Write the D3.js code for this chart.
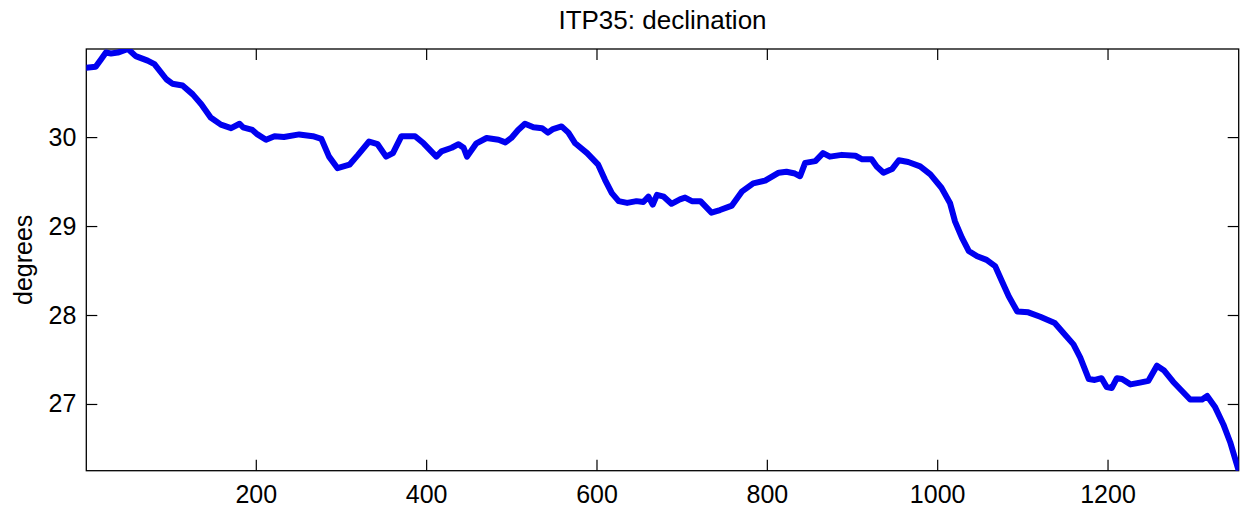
<!DOCTYPE html>
<html>
<head>
<meta charset="utf-8">
<script src="https://cdn.jsdelivr.net/npm/d3@7"></script>
<style>
  body { margin: 0; background: #fff; }
  svg { display: block; font-family: "Liberation Sans", Arial, Helvetica, sans-serif; }
</style>
</head>
<body>
<div id="chart"></div>
<script>
// sample number along the profile series
var sampleIdx = [1, 12, 18, 24, 30, 38, 50, 59, 73, 81, 95, 102, 114, 126, 136, 147, 159, 171, 181, 185,
  196, 202, 212, 222, 233, 251, 267, 277, 286, 296, 310, 320, 333, 343, 353, 361, 371, 387, 397, 412,
  418, 430, 438, 444, 448, 459, 471, 485, 493, 500, 508, 516, 526, 536, 543, 549, 559, 567, 575, 589,
  602, 610, 618, 626, 636, 647, 655, 661, 666, 671, 679, 688, 698, 704, 712, 722, 735, 745, 759, 771,
  784, 798, 814, 823, 833, 839, 845, 857, 866, 874, 888, 904, 912, 923, 929, 937, 947, 955, 966, 980,
  992, 1005, 1015, 1021, 1029, 1037, 1047, 1058, 1068, 1076, 1084, 1094, 1107, 1121, 1138, 1148, 1160, 1168, 1178, 1185,
  1193, 1199, 1205, 1211, 1217, 1227, 1238, 1248, 1258, 1266, 1277, 1297, 1311, 1317, 1326, 1336, 1344, 1354];

// declination, degrees
var declination = [30.78, 30.79, 30.87, 30.95, 30.94, 30.95, 30.99, 30.91, 30.86, 30.82, 30.65, 30.60, 30.58, 30.48, 30.37, 30.22, 30.14, 30.10, 30.15, 30.11,
  30.08, 30.03, 29.97, 30.01, 30.00, 30.03, 30.01, 29.98, 29.78, 29.65, 29.69, 29.80, 29.95, 29.92, 29.78, 29.82, 30.01, 30.01, 29.93, 29.78,
  29.84, 29.88, 29.92, 29.88, 29.78, 29.93, 29.99, 29.97, 29.94, 29.99, 30.08, 30.15, 30.11, 30.10, 30.05, 30.09, 30.12, 30.05, 29.93, 29.82,
  29.69, 29.52, 29.37, 29.28, 29.26, 29.28, 29.27, 29.33, 29.24, 29.35, 29.33, 29.25, 29.30, 29.32, 29.28, 29.28, 29.15, 29.18, 29.23, 29.39,
  29.48, 29.51, 29.60, 29.61, 29.59, 29.56, 29.71, 29.73, 29.82, 29.78, 29.80, 29.79, 29.75, 29.75, 29.67, 29.60, 29.64, 29.74, 29.72, 29.67,
  29.58, 29.43, 29.26, 29.05, 28.87, 28.72, 28.66, 28.62, 28.55, 28.38, 28.21, 28.04, 28.03, 27.98, 27.91, 27.80, 27.67, 27.52, 27.28, 27.27,
  27.29, 27.19, 27.18, 27.29, 27.28, 27.22, 27.24, 27.26, 27.43, 27.38, 27.25, 27.05, 27.05, 27.09, 26.97, 26.77, 26.57, 26.25];

var xTicks = [200, 400, 600, 800, 1000, 1200];
var yTicks = [27, 28, 29, 30];

var width = 1243, height = 512;
var margin = {top: 49, right: 4.3, bottom: 41.3, left: 86.3};
var w = width - margin.left - margin.right,
    h = height - margin.top - margin.bottom;

var data = sampleIdx.map(function(d, i){ return {x: d, y: declination[i]}; });

var svg = d3.select("#chart").append("svg")
    .attr("width", width)
    .attr("height", height);

var g = svg.append("g")
    .attr("transform", "translate(" + margin.left + "," + margin.top + ")");

var x = d3.scaleLinear().domain(d3.extent(sampleIdx)).range([0, w]);
var y = d3.scaleLinear().domain(d3.extent(declination)).range([h, 0]);

g.append("clipPath").attr("id", "clip")
  .append("rect").attr("width", w).attr("height", h);

// ticks point inwards, matlab style
var tickLen = 11;
var fmt = d3.format("d");
function styleAxis(sel){
  sel.select(".domain").remove();
  sel.selectAll(".tick line").attr("stroke", "#000").attr("stroke-width", 1.2);
  sel.selectAll("text").attr("fill", "#000").style("font-size", "25px");
}

g.append("g").attr("transform", "translate(0," + h + ")")
  .call(d3.axisBottom(x).tickValues(xTicks).tickFormat(fmt).tickSize(-tickLen).tickPadding(14.5))
  .call(styleAxis);
g.append("g")
  .call(d3.axisTop(x).tickValues(xTicks).tickSize(-tickLen).tickFormat(""))
  .call(styleAxis);
g.append("g")
  .call(d3.axisLeft(y).tickValues(yTicks).tickFormat(fmt).tickSize(-tickLen).tickPadding(10))
  .call(styleAxis);
g.append("g").attr("transform", "translate(" + w + ",0)")
  .call(d3.axisRight(y).tickValues(yTicks).tickSize(-tickLen).tickFormat(""))
  .call(styleAxis);

g.append("rect")
  .attr("width", w).attr("height", h)
  .attr("fill", "none")
  .attr("stroke", "#000")
  .attr("stroke-width", 1.3);

var line = d3.line()
  .x(function(d){ return x(d.x); })
  .y(function(d){ return y(d.y); });

g.append("path")
  .datum(data)
  .attr("clip-path", "url(#clip)")
  .attr("d", line)
  .attr("fill", "none")
  .attr("stroke", "#0000f0")
  .attr("stroke-width", 6)
  .attr("stroke-linejoin", "round")
  .attr("stroke-linecap", "round");

svg.append("text")
  .attr("x", margin.left + w / 2)
  .attr("y", 29.3)
  .attr("text-anchor", "middle")
  .style("font-size", "26px")
  .text("ITP35: declination");

svg.append("text")
  .attr("transform", "translate(32," + (margin.top + h / 2) + ")rotate(-90)")
  .attr("text-anchor", "middle")
  .style("font-size", "25px")
  .text("degrees");
</script>
</body>
</html>
